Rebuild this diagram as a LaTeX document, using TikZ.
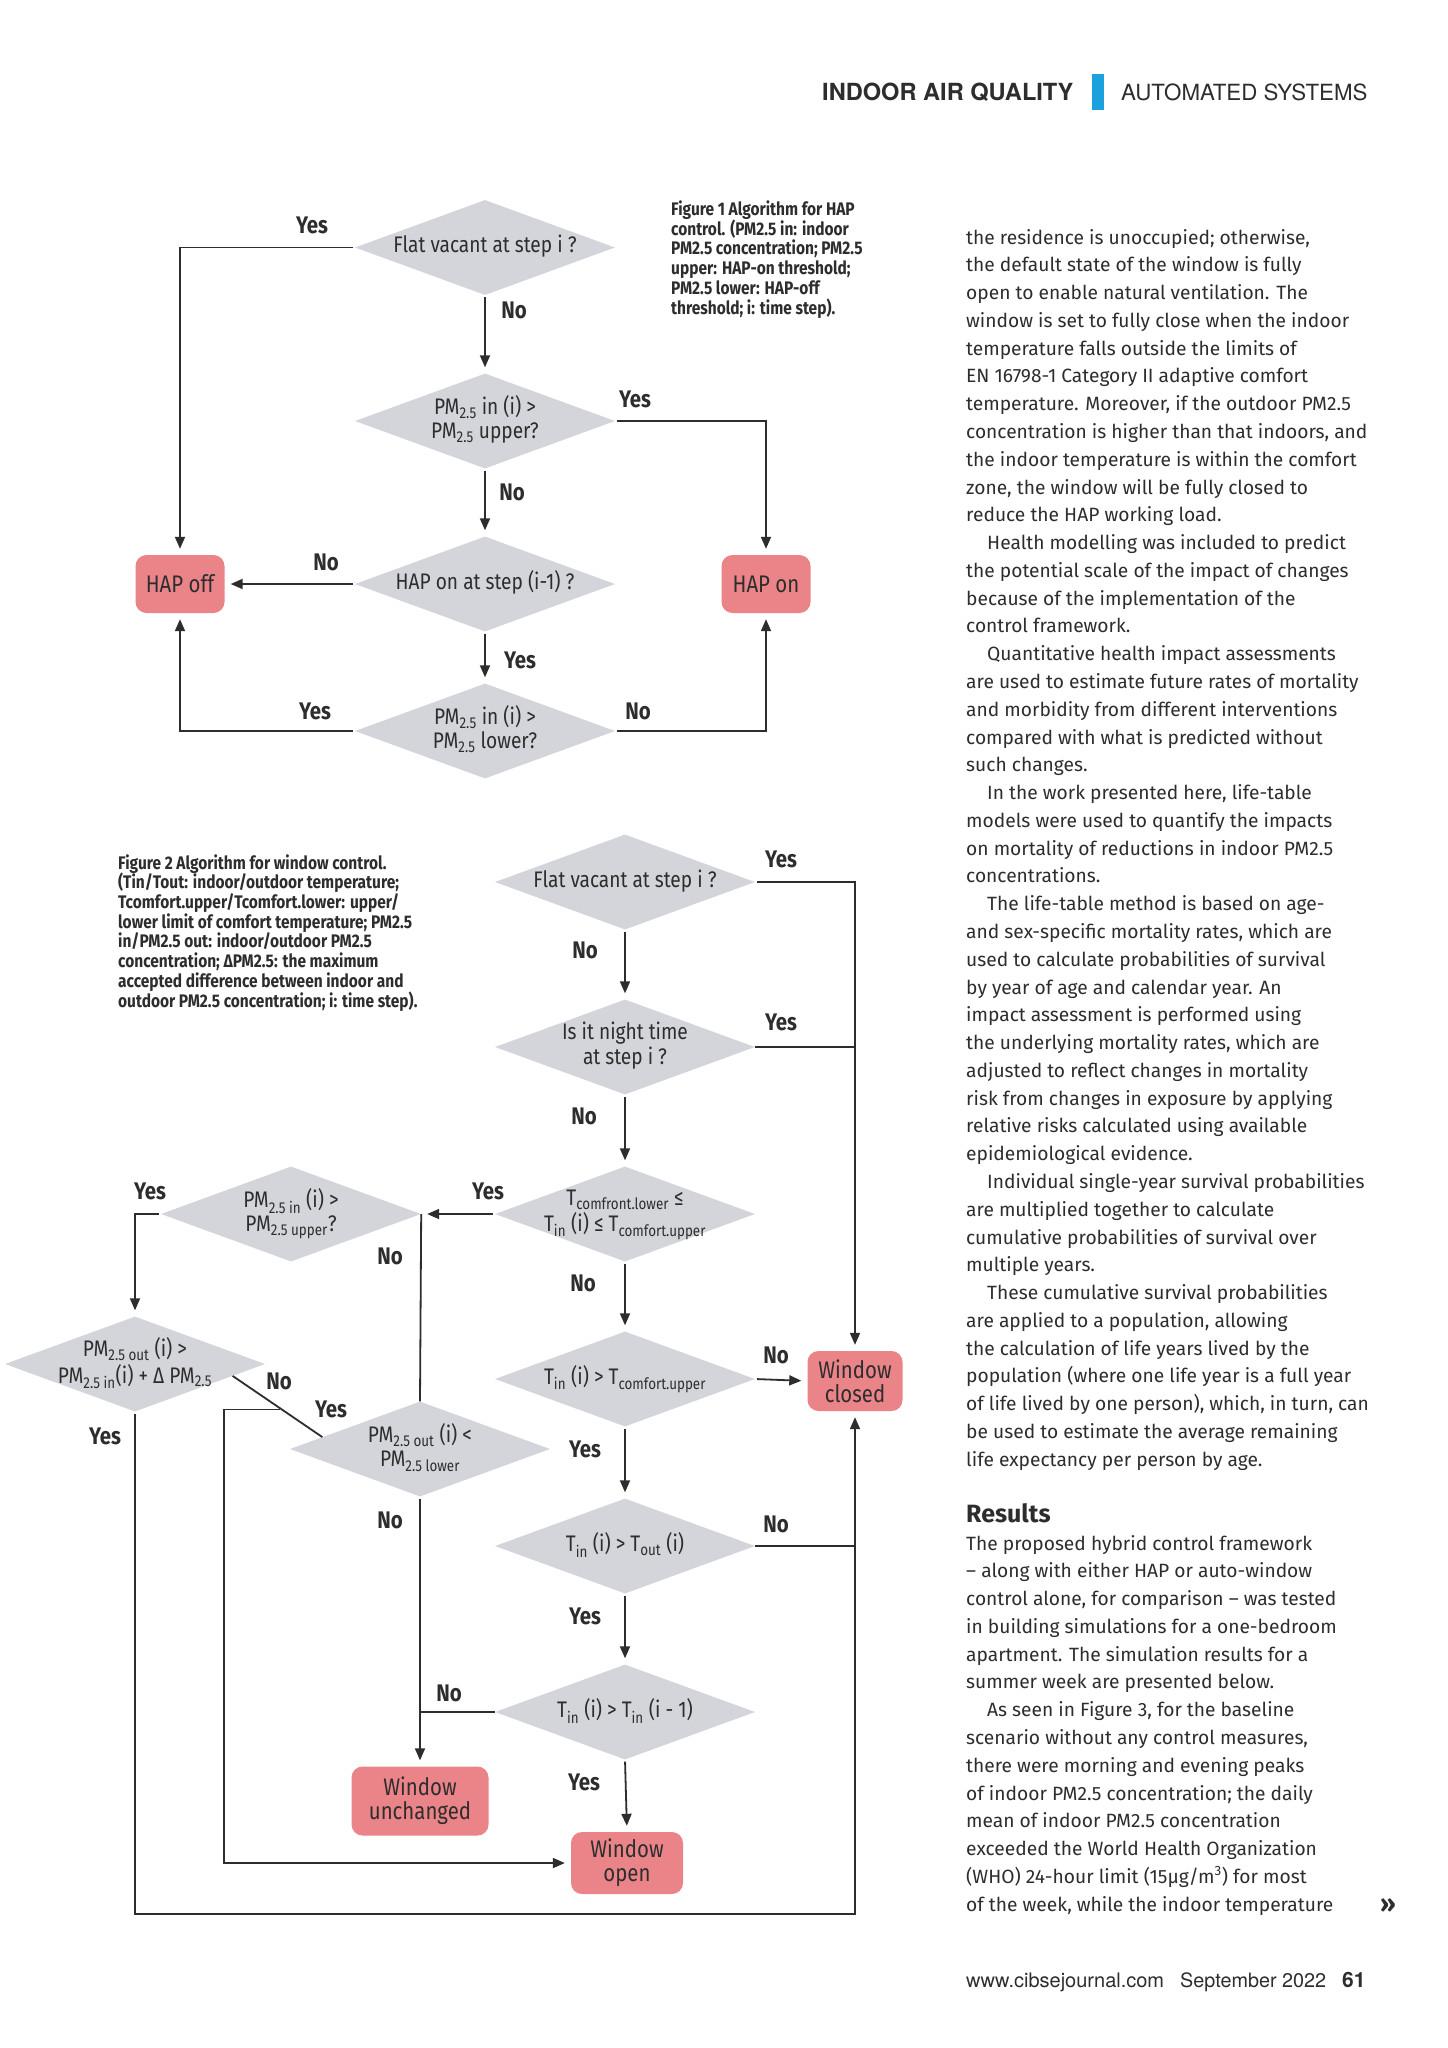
\documentclass[tikz,border=0pt]{standalone}
\usepackage{fontspec}
\setmainfont{Fira Sans}
\newfontfamily\diagfont[FakeStretch=0.85]{Fira Sans}
\newfontfamily\headfont{TeX Gyre Heros}
\newfontfamily\bodyfont{Fira Sans}
\usetikzlibrary{shapes.geometric, arrows.meta, calc}

\definecolor{diagray}{RGB}{212,213,218}
\definecolor{termpink}{RGB}{234,132,137}
\definecolor{inkgray}{RGB}{45,45,45}
\definecolor{barblue}{RGB}{28,160,222}

% text of a decision box, kept out of the shape size
\newcommand{\dlabel}[1]{\makebox[0pt]{\begin{tabular}{@{}c@{}}#1\end{tabular}}}
\newcommand{\pin}{\hspace*{21pt}}

\begin{document}
\begin{tikzpicture}[x=1pt, y=-1pt,
  decision/.style={diamond, aspect=2.7, fill=diagray, minimum width=260pt, minimum height=95pt, inner sep=0pt, text=inkgray, font=\diagfont\fontsize{22.5}{24}\selectfont},
  terminal/.style={rectangle, rounded corners=11pt, fill=termpink, inner sep=0pt, align=center, text=inkgray, font=\diagfont\fontsize{24}{24}\selectfont},
  yn/.style={text=inkgray, font=\diagfont\bfseries\fontsize{24}{26}\selectfont},
  flow/.style={draw=inkgray, line width=1.8pt, -{Triangle[length=12pt, width=10pt]}, shorten >=6pt, shorten <=2pt},
  link/.style={draw=inkgray, line width=1.8pt},
  caption/.style={anchor=base west, inner sep=0pt, align=left, text=inkgray, font=\diagfont\bfseries\fontsize{18.2}{19.7}\selectfont},
  bodyline/.style={anchor=base west, inner sep=0pt, text=inkgray, font=\bodyfont\fontsize{19.2}{27.8}\selectfont},
  header/.style={anchor=base west, inner sep=0pt, text=inkgray}]

  \useasboundingbox[fill=white] (0,0) rectangle (1448,2048);

  % Header
  \node[header, font=\headfont\bfseries\fontsize{23.6}{26}\selectfont] (hdrtopic) at (822,100) {INDOOR AIR QUALITY};
  \node[fill=barblue, minimum width=12pt, minimum height=36pt, inner sep=0pt] (hdrbar) at (1098,92) {};
  \node[header, font=\headfont\fontsize{22.3}{26}\selectfont] (hdrsection) at (1121,100) {AUTOMATED SYSTEMS};

  % Figure 1: HAP control
  \node[decision] (vac) at (485,247.5) {\dlabel{Flat vacant at step i ?}};
  \node[decision] (pmup) at (485,421) {\dlabel{PM\textsubscript{2.5} in (i) >\\PM\textsubscript{2.5} upper?}};
  \node[decision] (happrev) at (485,584) {\dlabel{HAP on at step (i-1) ?}};
  \node[decision] (pmlow) at (485,731) {\dlabel{PM\textsubscript{2.5} in (i) >\\PM\textsubscript{2.5} lower?}};
  \node[terminal, minimum width=89pt, minimum height=58pt] (hapoff) at (180,584) {HAP off};
  \node[terminal, minimum width=89pt, minimum height=58pt] (hapon) at (766,584) {HAP on};

  \draw[flow] (vac.west) -| (hapoff.north);
  \draw[flow] (vac.south) -- (pmup.north);
  \draw[flow] (pmup.east) -| (hapon.north);
  \draw[flow] (pmup.south) -- (happrev.north);
  \draw[flow] (happrev.west) -- (hapoff.east);
  \draw[flow] (happrev.south) -- (pmlow.north);
  \draw[flow] (pmlow.west) -| (hapoff.south);
  \draw[flow] (pmlow.east) -| (hapon.south);

  \node[yn] (vacyes) at (312,225) {Yes};
  \node[yn] (vacno) at (514,310) {No};
  \node[yn] (pmupyes) at (635,399) {Yes};
  \node[yn] (pmupno) at (512,492) {No};
  \node[yn] (happrevno) at (326,562) {No};
  \node[yn] (happrevyes) at (520,660) {Yes};
  \node[yn] (pmlowyes) at (315,711) {Yes};
  \node[yn] (pmlowno) at (638,711) {No};

  \node[caption] (capone) at (671,314) {Figure 1 Algorithm for HAP\\control. (PM2.5 in: indoor\\PM2.5 concentration; PM2.5\\upper: HAP-on threshold;\\PM2.5 lower: HAP-off\\threshold; i: time step).};

  % Figure 2: window control
  \node[decision] (wvac) at (625,882) {\dlabel{Flat vacant at step i ?}};
  \node[decision] (night) at (625,1047) {\dlabel{Is it night time\\at step i ?}};
  \node[decision] (comf) at (625,1214) {\dlabel{T\textsubscript{comfront.lower} ≤\\T\textsubscript{in} (i) ≤ T\textsubscript{comfort.upper}}};
  \node[decision] (tup) at (625,1379) {\dlabel{T\textsubscript{in} (i) > T\textsubscript{comfort.upper}}};
  \node[decision] (tout) at (625,1546) {\dlabel{T\textsubscript{in} (i) > T\textsubscript{out} (i)}};
  \node[decision] (tprev) at (625,1712) {\dlabel{T\textsubscript{in} (i) > T\textsubscript{in} (i - 1)}};
  \node[decision] (wpmup) at (291,1214) {\dlabel{PM\textsubscript{2.5 in} (i) >\\PM\textsubscript{2.5 upper}?}};
  \node[decision] (pmdelta) at (135,1364) {\dlabel{PM\textsubscript{2.5 out} (i) >\\PM\textsubscript{2.5 in}(i) + Δ PM\textsubscript{2.5}}};
  \node[decision] (outlow) at (420,1449) {\dlabel{PM\textsubscript{2.5 out} (i) <\\PM\textsubscript{2.5 lower}}};
  \node[terminal, minimum width=95pt, minimum height=60pt] (wclosed) at (855,1381) {Window\\closed};
  \node[terminal, minimum width=137pt, minimum height=69pt] (wkeep) at (420,1801) {Window\\unchanged};
  \node[terminal, minimum width=112pt, minimum height=62pt] (wopen) at (627,1863) {Window\\open};

  \coordinate (cbot) at (0,1914);
  \coordinate (yesturn) at (224,0);
  \coordinate (nostart) at ($(pmdelta.east)!0.25!(pmdelta.south)$);
  \coordinate (noend) at ($(outlow.west)!0.25!(outlow.north)$);
  \coordinate (yesjoin) at ($(nostart)!0.55!(noend)$);

  \draw[flow] (wvac.east) -| (wclosed.north);
  \draw[link] (night.east) -- (night.east -| wclosed.north);
  \draw[flow] (wvac.south) -- (night.north);
  \draw[flow] (night.south) -- (comf.north);
  \draw[flow] (comf.west) -- (wpmup.east);
  \draw[flow] (comf.south) -- (tup.north);
  \draw[flow] (tup.east) -- (wclosed.west);
  \draw[flow] (tup.south) -- (tout.north);
  \draw[link] (tout.east) -- (tout.east -| wclosed.south);
  \draw[flow] (tout.south) -- (tprev.north);
  \draw[flow] (tprev.south) -- (wopen.north);
  \draw[link] (tprev.west) -- (tprev.west -| outlow.south);
  \draw[link] (wpmup.east) -- (outlow.north);
  \draw[flow] (wpmup.west) -| (pmdelta.north);
  \draw[flow] (outlow.south) -- (wkeep.north);
  \draw[link] (nostart) -- (noend);
  \draw[flow] (yesjoin) -- (yesjoin -| yesturn) |- (wopen.west);
  \draw[flow] (pmdelta.south) |- (cbot -| wclosed.south) -- (wclosed.south);

  \node[yn] (wvacyes) at (781,859) {Yes};
  \node[yn] (wvacno) at (585,950) {No};
  \node[yn] (nightyes) at (781,1022) {Yes};
  \node[yn] (nightno) at (584,1116) {No};
  \node[yn] (comfyes) at (488,1191) {Yes};
  \node[yn] (wpmupyes) at (150,1191) {Yes};
  \node[yn] (wpmupno) at (390,1256) {No};
  \node[yn] (comfno) at (583,1283) {No};
  \node[yn] (tupno) at (776,1355) {No};
  \node[yn] (pmdeltano) at (279,1381) {No};
  \node[yn] (outlowyes) at (331,1409) {Yes};
  \node[yn] (pmdeltayes) at (105,1436) {Yes};
  \node[yn] (tupyes) at (585,1449) {Yes};
  \node[yn] (outlowno) at (390,1520) {No};
  \node[yn] (toutno) at (776,1524) {No};
  \node[yn] (toutyes) at (585,1616) {Yes};
  \node[yn] (tprevno) at (449,1693) {No};
  \node[yn] (tprevyes) at (584,1782) {Yes};

  \node[caption] (captwo) at (118,1007) {Figure 2 Algorithm for window control.\\(Tin/Tout: indoor/outdoor temperature;\\Tcomfort.upper/Tcomfort.lower: upper/\\lower limit of comfort temperature; PM2.5\\in/PM2.5 out: indoor/outdoor PM2.5\\concentration; ΔPM2.5: the maximum\\accepted difference between indoor and\\outdoor PM2.5 concentration; i: time step).};

  % Article text
  \foreach \txt [count=\n from 0] in {
    {the residence is unoccupied; otherwise,},
    {the default state of the window is fully},
    {open to enable natural ventilation. The},
    {window is set to fully close when the indoor},
    {temperature falls outside the limits of},
    {EN 16798-1 Category II adaptive comfort},
    {temperature. Moreover, if the outdoor PM2.5},
    {concentration is higher than that indoors, and},
    {the indoor temperature is within the comfort},
    {zone, the window will be fully closed to},
    {reduce the HAP working load.},
    {\pin Health modelling was included to predict},
    {the potential scale of the impact of changes},
    {because of the implementation of the},
    {control framework.},
    {\pin Quantitative health impact assessments},
    {are used to estimate future rates of mortality},
    {and morbidity from different interventions},
    {compared with what is predicted without},
    {such changes.},
    {\pin In the work presented here, life-table},
    {models were used to quantify the impacts},
    {on mortality of reductions in indoor PM2.5},
    {concentrations.},
    {\pin The life-table method is based on age-},
    {and sex-specific mortality rates, which are},
    {used to calculate probabilities of survival},
    {by year of age and calendar year. An},
    {impact assessment is performed using},
    {the underlying mortality rates, which are},
    {adjusted to reflect changes in mortality},
    {risk from changes in exposure by applying},
    {relative risks calculated using available},
    {epidemiological evidence.},
    {\pin Individual single-year survival probabilities},
    {are multiplied together to calculate},
    {cumulative probabilities of survival over},
    {multiple years.},
    {\pin These cumulative survival probabilities},
    {are applied to a population, allowing},
    {the calculation of life years lived by the},
    {population (where one life year is a full year},
    {of life lived by one person), which, in turn, can},
    {be used to estimate the average remaining},
    {life expectancy per person by age.}}
    \node[bodyline] (body\n) at ({966},{244+27.78*\n}) {\txt};

  \node[bodyline, font=\bodyfont\bfseries\fontsize{25}{28}\selectfont] (results) at (966,1522) {Results};

  \foreach \txt [count=\n from 0] in {
    {The proposed hybrid control framework},
    {– along with either HAP or auto-window},
    {control alone, for comparison – was tested},
    {in building simulations for a one-bedroom},
    {apartment. The simulation results for a},
    {summer week are presented below.},
    {\pin As seen in Figure 3, for the baseline},
    {scenario without any control measures,},
    {there were morning and evening peaks},
    {of indoor PM2.5 concentration; the daily},
    {mean of indoor PM2.5 concentration},
    {exceeded the World Health Organization},
    {(WHO) 24-hour limit (15μg/m\textsuperscript{3}) for most},
    {of the week, while the indoor temperature}}
    \node[bodyline] (res\n) at ({966},{1550+27.78*\n}) {\txt};

  \node[bodyline, font=\bodyfont\bfseries\fontsize{25}{28}\selectfont] (nextpage) at (1380,1912) {»};

  % Footer
  \node[header, font=\headfont\fontsize{20}{22}\selectfont] (site) at (966,1987) {www.cibsejournal.com};
  \node[header, font=\headfont\fontsize{19.8}{22}\selectfont] (issue) at (1180,1987) {September 2022};
  \node[header, font=\headfont\bfseries\fontsize{21}{22}\selectfont] (pageno) at (1342,1987) {61};
\end{tikzpicture}
\end{document}
